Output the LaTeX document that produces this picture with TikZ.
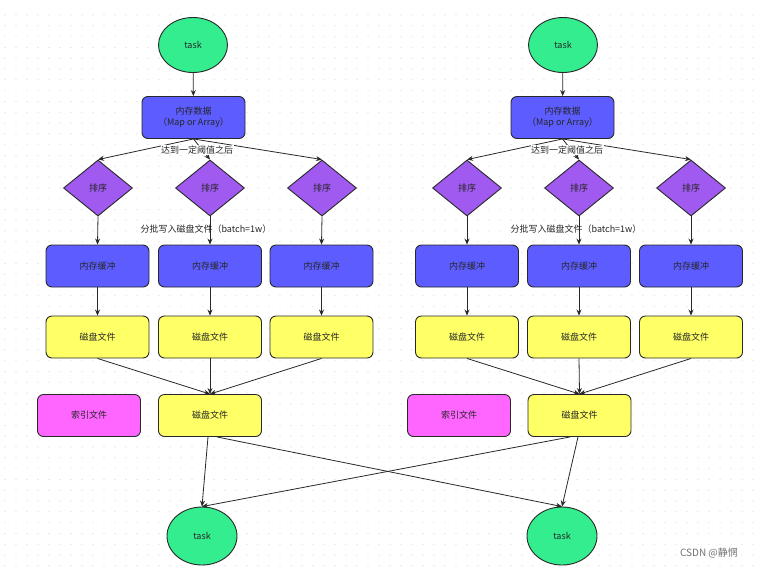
\documentclass[tikz,border=0pt]{standalone}
\usepackage{fontspec}
\setmainfont{Noto Sans CJK SC}
\usetikzlibrary{shapes.geometric,arrows.meta}
\definecolor{taskgreen}{RGB}{52,237,142}
\definecolor{bufblue}{RGB}{92,92,255}
\definecolor{sortpurple}{RGB}{160,90,240}
\definecolor{fileyellow}{RGB}{255,255,102}
\definecolor{idxpink}{RGB}{255,102,255}
\definecolor{edgegray}{RGB}{40,40,40}
\definecolor{dotgray}{RGB}{215,215,215}
\tikzset{
  base/.style={draw=edgegray, line width=0.9pt, font=\fontsize{9}{11}\selectfont, text=black!85, inner sep=1pt},
  task/.style={base, ellipse, fill=taskgreen, minimum width=69pt, minimum height=55pt},
  boxnode/.style={base, rectangle, rounded corners=6pt, minimum width=103pt, minimum height=42pt, align=center},
  mem/.style={boxnode, fill=bufblue},
  disk/.style={boxnode, fill=fileyellow},
  idx/.style={boxnode, fill=idxpink},
  sortd/.style={base, diamond, fill=sortpurple, minimum width=69pt, minimum height=56pt},
  conn/.style={draw=edgegray, line width=0.8pt, -{Stealth[length=6pt,width=5pt]}},
  lbl/.style={font=\fontsize{9}{11}\selectfont, text=black!85, inner sep=0.5pt}
}
\begin{document}
\begin{tikzpicture}[x=1pt,y=-1pt]
\fill[white] (0,0) rectangle (759,568);
\useasboundingbox (0,0) rectangle (759,568);
\foreach \i in {0,...,68}{
  \foreach \j in {0,...,51}{
    \fill[dotgray] (5+11*\i,15+10.8*\j) circle (0.6pt);
  }
}
% ---------- left group ----------
\node[task] (tA) at (193,45) {task};
\node[mem] (mA) at (193.5,117.5) {内存数据\\（Map or Array）};
\node[sortd] (sA1) at (98,188) {排序};
\node[sortd] (sA2) at (210,188) {排序};
\node[sortd] (sA3) at (322,188) {排序};
\node[mem] (bA1) at (97.5,266) {内存缓冲};
\node[mem] (bA2) at (210,266) {内存缓冲};
\node[mem] (bA3) at (321.5,266) {内存缓冲};
\node[disk] (fA1) at (97.5,337) {磁盘文件};
\node[disk] (fA2) at (210,337) {磁盘文件};
\node[disk] (fA3) at (321.5,337) {磁盘文件};
\node[idx] (iA) at (89,415.5) {索引文件};
\node[disk] (gA) at (210,415.5) {磁盘文件};
% ---------- right group ----------
\node[task] (tB) at (563,45) {task};
\node[mem] (mB) at (562.5,117.5) {内存数据\\（Map or Array）};
\node[sortd] (sB1) at (467,188) {排序};
\node[sortd] (sB2) at (579,188) {排序};
\node[sortd] (sB3) at (691,188) {排序};
\node[mem] (bB1) at (467,266) {内存缓冲};
\node[mem] (bB2) at (579,266) {内存缓冲};
\node[mem] (bB3) at (691,266) {内存缓冲};
\node[disk] (fB1) at (467,337) {磁盘文件};
\node[disk] (fB2) at (579,337) {磁盘文件};
\node[disk] (fB3) at (691,337) {磁盘文件};
\node[idx] (iB) at (459,415.5) {索引文件};
\node[disk] (gB) at (579.5,415.5) {磁盘文件};
% ---------- bottom tasks ----------
\node[task, minimum width=70pt, minimum height=58pt] (tC) at (202,536) {task};
\node[task, minimum width=70pt, minimum height=58pt] (tD) at (562,536) {task};
% ---------- connectors ----------
\foreach \g in {A,B}{
  \draw[conn] (t\g) -- (m\g);
  \foreach \k in {1,2,3}{
    \draw[conn] (m\g.south) -- (s\g\k.north);
    \draw[conn] (s\g\k.south) -- (b\g\k.north);
    \draw[conn] (b\g\k.south) -- (f\g\k.north);
    \draw[conn] (f\g\k.south) -- (g\g.north);
  }
}
\draw[conn] ([xshift=-2pt]gA.south) -- (tC.north);
\draw[conn] ([xshift=7pt]gA.south) -- (tD.north);
\draw[conn] ([xshift=-1.5pt]gB.south) -- (tD.north);
\draw[conn] ([xshift=-9.5pt]gB.south) -- (tC.north);
% ---------- labels ----------
\node[lbl, fill=white] (lA1) at (197,150) {达到一定阈值之后};
\node[lbl] (lA2) at (206,229) {分批写入磁盘文件（batch=1w）};
\node[lbl, fill=white] (lB1) at (567,150) {达到一定阈值之后};
\node[lbl] (lB2) at (576,229) {分批写入磁盘文件（batch=1w）};
\node[font=\fontsize{10}{12}\selectfont, text=black!55] (wm) at (709,553) {CSDN @静惘};
\end{tikzpicture}
\end{document}
